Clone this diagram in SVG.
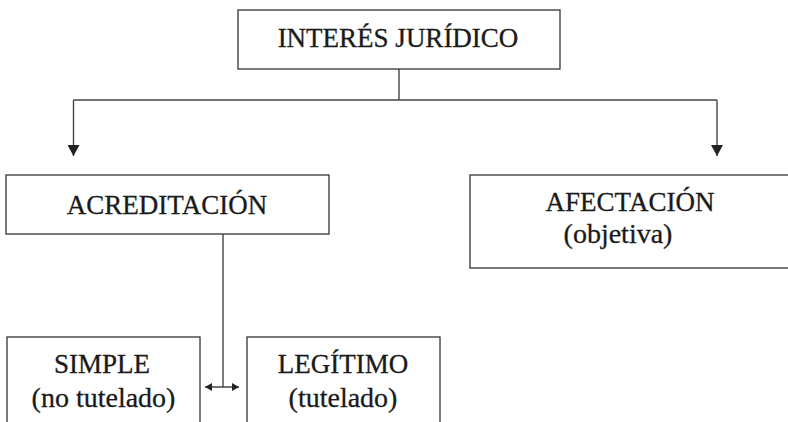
<svg xmlns="http://www.w3.org/2000/svg" width="788" height="422" viewBox="0 0 788 422">
  <defs>
    <marker id="arrowBig" markerUnits="userSpaceOnUse" markerWidth="11" markerHeight="12" refX="11" refY="6" orient="auto">
      <path d="M0,0 L11,6 L0,12 z" fill="#222"/>
    </marker>
    <marker id="arrowSmall" markerUnits="userSpaceOnUse" markerWidth="7" markerHeight="8" refX="7" refY="4" orient="auto-start-reverse">
      <path d="M0,0 L7,4 L0,8 z" fill="#222"/>
    </marker>
  </defs>
  <style>
    .box { fill: #fff; stroke: #333; stroke-width: 1.3; }
    .conn { fill: none; stroke: #444; stroke-width: 1.4; }
    .t { font-family: "Liberation Serif", "Times New Roman", serif; fill: #1a1a1a; stroke: #1a1a1a; stroke-width: 0.3; text-anchor: middle; }
    .cap { font-size: 27px; }
    .low { font-size: 28px; }
  </style>
  <rect width="788" height="422" fill="#fff"/>

  <g id="connectors">
    <path class="conn" d="M399,69 V100"/>
    <path class="conn" d="M73.5,100 H717"/>
    <path class="conn" d="M73.5,100 V156" marker-end="url(#arrowBig)"/>
    <path class="conn" d="M717,100 V156" marker-end="url(#arrowBig)"/>
    <path class="conn" d="M223,234 V387"/>
    <path class="conn" d="M205,387 H239" marker-start="url(#arrowSmall)" marker-end="url(#arrowSmall)"/>
  </g>

  <g id="interes">
    <rect class="box" x="238" y="10" width="322" height="59"/>
    <text class="t cap" x="398" y="47">INTERÉS JURÍDICO</text>
  </g>

  <g id="acreditacion">
    <rect class="box" x="6" y="175" width="323" height="59"/>
    <text class="t cap" x="167" y="214">ACREDITACIÓN</text>
  </g>

  <g id="afectacion">
    <rect class="box" x="470" y="175" width="322" height="93"/>
    <text class="t cap" x="630" y="211">AFECTACIÓN</text>
    <text class="t low" x="618" y="243">(objetiva)</text>
  </g>

  <g id="simple">
    <rect class="box" x="7" y="337" width="193" height="90"/>
    <text class="t cap" x="102" y="373">SIMPLE</text>
    <text class="t low" x="103.5" y="407">(no tutelado)</text>
  </g>

  <g id="legitimo">
    <rect class="box" x="247" y="337" width="193" height="90"/>
    <text class="t cap" x="343" y="373">LEGÍTIMO</text>
    <text class="t low" x="343" y="407">(tutelado)</text>
  </g>
</svg>
